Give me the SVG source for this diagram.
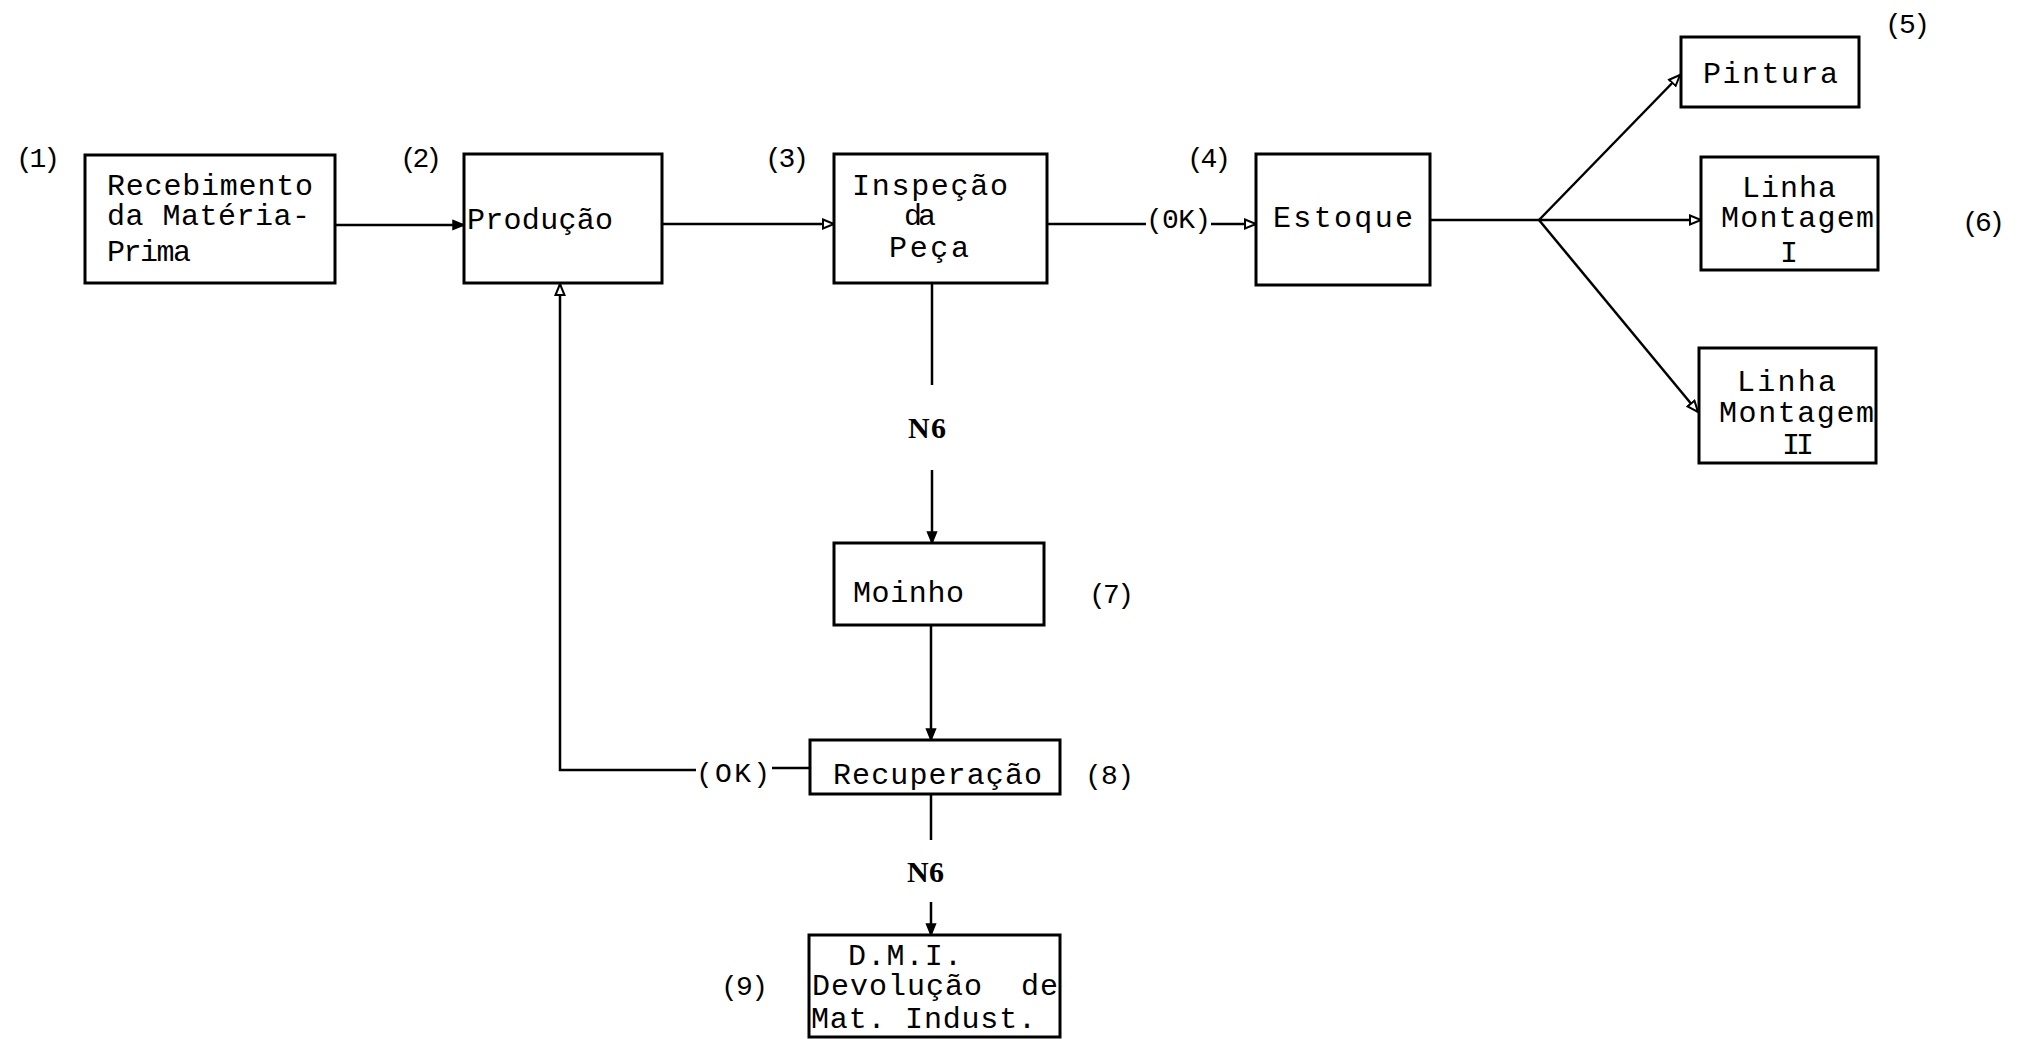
<svg xmlns="http://www.w3.org/2000/svg" width="2030" height="1039" viewBox="0 0 2030 1039">
<style>
  .box { fill: #ffffff; stroke: #000000; stroke-width: 3; }
  .conn { fill: none; stroke: #000000; stroke-width: 2.5; }
  text { font-family: "Liberation Mono", "Courier New", monospace; font-size: 30px; fill: #000000; }
  .lbl { font-size: 28px; }
  .bold { font-weight: bold; font-family: "Liberation Serif", "Times New Roman", serif; font-size: 30px; }
</style>
<defs>
  <marker id="open" markerUnits="userSpaceOnUse" markerWidth="14" markerHeight="12" refX="12" refY="6" orient="auto">
    <path d="M1,1.5 L12,6 L1,10.5 Z" fill="#ffffff" stroke="#000000" stroke-width="2"/>
  </marker>
  <marker id="solid" markerUnits="userSpaceOnUse" markerWidth="14" markerHeight="12" refX="12" refY="6" orient="auto">
    <path d="M1,1.5 L12,6 L1,10.5 Z" fill="#000000" stroke="#000000" stroke-width="1.5"/>
  </marker>
</defs>
<rect x="0" y="0" width="2030" height="1039" fill="#ffffff"/>

<g id="connectors">
  <path class="conn" d="M335,225 L464,225" marker-end="url(#solid)"/>
  <path class="conn" d="M662,224 L834,224" marker-end="url(#open)"/>
  <path class="conn" d="M1047,224 L1146,224"/>
  <path class="conn" d="M1211,224 L1256,224" marker-end="url(#open)"/>
  <path class="conn" d="M1430,220 L1539,220"/>
  <path class="conn" d="M1539,220 L1680,75" marker-end="url(#open)"/>
  <path class="conn" d="M1539,220 L1701,220" marker-end="url(#open)"/>
  <path class="conn" d="M1539,220 L1698,412" marker-end="url(#open)"/>
  <path class="conn" d="M932,283 L932,385"/>
  <path class="conn" d="M932,470 L932,543" marker-end="url(#solid)"/>
  <path class="conn" d="M931,625 L931,740" marker-end="url(#solid)"/>
  <path class="conn" d="M931,794 L931,840"/>
  <path class="conn" d="M931,902 L931,935" marker-end="url(#solid)"/>
  <path class="conn" d="M810,768 L772,768"/>
  <path class="conn" d="M696,770 L560,770 L560,284" marker-end="url(#open)"/>
</g>

<g id="n1">
  <text class="lbl" x="16" y="167" textLength="44">(1)</text>
  <rect class="box" x="85" y="155" width="250" height="128"/>
  <text x="107" y="195" textLength="206">Recebimento</text>
  <text x="107" y="225" textLength="203">da Matéria-</text>
  <text x="107" y="261" textLength="84">Prima</text>
</g>
<g id="n2">
  <text class="lbl" x="400" y="167" textLength="42">(2)</text>
  <rect class="box" x="464" y="154" width="198" height="129"/>
  <text x="467" y="229" textLength="146">Produção</text>
</g>
<g id="n3">
  <text class="lbl" x="765" y="167" textLength="44">(3)</text>
  <rect class="box" x="834" y="154" width="213" height="129"/>
  <text x="852" y="195" textLength="156">Inspeção</text>
  <text x="904" y="225" textLength="32">da</text>
  <text x="889" y="257" textLength="80">Peça</text>
</g>
<g id="ok1">
  <text class="lbl" x="1146" y="228" textLength="65">(0K)</text>
</g>
<g id="n4">
  <text class="lbl" x="1187" y="167" textLength="44">(4)</text>
  <rect class="box" x="1256" y="154" width="174" height="131"/>
  <text x="1273" y="227" textLength="140">Estoque</text>
</g>
<g id="n5">
  <rect class="box" x="1681" y="37" width="178" height="70"/>
  <text x="1703" y="83" textLength="135">Pintura</text>
  <text class="lbl" x="1885" y="33" textLength="45">(5)</text>
</g>
<g id="n6">
  <rect class="box" x="1701" y="157" width="177" height="113"/>
  <text x="1742" y="197" textLength="94">Linha</text>
  <text x="1721" y="227" textLength="153">Montagem</text>
  <text x="1780" y="262">I</text>
  <text class="lbl" x="1962" y="231" textLength="43">(6)</text>
</g>
<g id="n6b">
  <rect class="box" x="1699" y="348" width="177" height="115"/>
  <text x="1737" y="391" textLength="99">Linha</text>
  <text x="1719" y="422" textLength="155">Montagem</text>
  <text x="1782" y="454" textLength="32">II</text>
</g>
<g id="ng1">
  <text class="bold" x="908" y="438" textLength="38">N6</text>
</g>
<g id="n7">
  <rect class="box" x="834" y="543" width="210" height="82"/>
  <text x="853" y="602" textLength="111">Moinho</text>
  <text class="lbl" x="1089" y="603" textLength="45">(7)</text>
</g>
<g id="n8">
  <rect class="box" x="810" y="740" width="250" height="54"/>
  <text x="833" y="784" textLength="209">Recuperação</text>
  <text class="lbl" x="1085" y="784" textLength="49">(8)</text>
</g>
<g id="ok2">
  <text class="lbl" x="696" y="782" textLength="74">(OK)</text>
</g>
<g id="ng2">
  <text class="bold" x="907" y="882" textLength="37">N6</text>
</g>
<g id="n9">
  <rect class="box" x="809" y="935" width="251" height="102"/>
  <text x="848" y="965" textLength="114">D.M.I.</text>
  <text x="812" y="995" textLength="246" xml:space="preserve">Devolução  de</text>
  <text x="811" y="1028" textLength="225">Mat. Indust.</text>
  <text class="lbl" x="721" y="995" textLength="47">(9)</text>
</g>
</svg>
